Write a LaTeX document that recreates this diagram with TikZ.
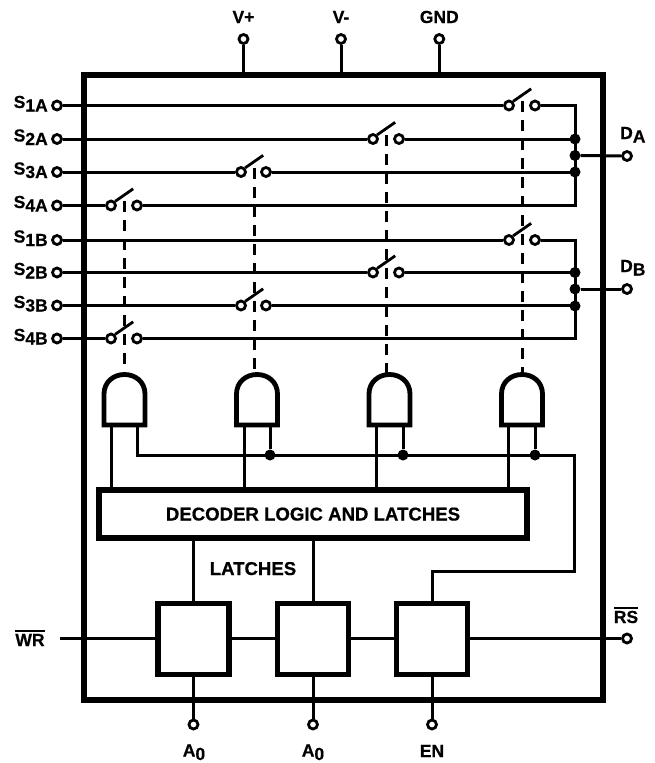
\documentclass[tikz,border=0pt]{standalone}
\usepackage{fontspec}
\setmainfont{Liberation Sans}[BoldFont={Liberation Sans Bold},BoldFeatures={FakeBold=0.6}]
\newcommand{\barred}[1]{\vbox{\hrule height 1.3pt\kern 2.2pt\hbox{#1}}}
\newcommand{\subdrop}[1]{\raisebox{-3.5pt}{#1}}
\begin{document}
\begin{tikzpicture}[x=1pt,y=-1pt,
  wire/.style={line width=3pt,line cap=butt,line join=miter},
  heavy/.style={line width=5.2pt,line join=miter},
  term/.style={circle,draw,line width=2.8pt,fill=white,minimum size=9pt,inner sep=0pt},
  dotj/.style={circle,fill=black,minimum size=11pt,inner sep=0pt},
  ctrl/.style={line width=3pt,dash pattern=on 11pt off 8pt},
  lab/.style={font=\bfseries\fontsize{17.5}{20}\selectfont,inner sep=0pt,text=black,anchor=base},
  bigl/.style={lab,font=\bfseries\fontsize{18.6}{20}\selectfont},
  blockbox/.style={draw,heavy,fill=white,inner sep=0pt}]
\useasboundingbox (0,0) rectangle (655,763);

% external frame
\node[draw,heavy,minimum width=519pt,minimum height=625pt,inner sep=0pt,anchor=north west,outer sep=0pt] (chip) at (84,75) {};

% power terminals
\foreach \n/\x/\t in {vp/243.5/V+,vm/341/V-,gnd/439.3/GND}{
  \node[term] (\n) at (\x,39) {};
  \coordinate (\n e) at (\x,75);
  \draw[wire] (\n) -- (\n e);
  \node[lab] at (\x,23) {\t};
}

% dashed controls first (under the lines)
\foreach \n/\x/\y in {g4/124/201,g3/254/168,g2/386/135,g1/522/101}{
  \coordinate (\n s) at (\x,\y);
  \coordinate (\n t) at (\x,373);
  \draw[ctrl] (\n s) -- (\n t);
}

% right buses
\coordinate (busAt) at (575,104);
\coordinate (busAb) at (575,207);
\coordinate (busBt) at (575,238.5);
\coordinate (busBb) at (575,340);
\draw[wire] (busAt) -- (busAb);
\draw[wire] (busBt) -- (busBb);

% signal lines and switches
\foreach \n/\y/\a/\b/\sub in {
  sa/105.5/509/535/1A,
  sb/139/373/399/2A,
  sc/172/241/266/3A,
  sd/205.5/111/137/4A,
  se/240/509/535/1B,
  sf/272.5/373/399/2B,
  sg/305.5/241/266/3B,
  sh/338.5/111/137/4B}{
  \node[term] (\n) at (57,\y) {};
  \node[term] (\n l) at (\a,\y) {};
  \node[term] (\n r) at (\b,\y) {};
  \coordinate (\n m) at (575,\y);
  \draw[wire] (\n) -- (\n l);
  \draw[wire] (\n r) -- (\n m);
  \draw[line width=2.8pt] (\n l.north east) -- ++(18,-12.5);
  \node[lab,anchor=base west] at (13.5,\y+2.5) {S\subdrop{\sub}};
}

% bus junctions
\foreach \n/\y in {ja/139,jb/155.5,jc/172,jd/272.5,je/289,jf/306}{
  \node[dotj] (\n) at (575,\y) {};
}
\node[term] (da) at (627,156) {};
\node[term] (db) at (627,289) {};
\draw[wire] (jb) -- (da);
\draw[wire] (je) -- (db);
\node[lab,anchor=base west] at (620,139) {D\subdrop{A}};
\node[lab,anchor=base west] at (620,272) {D\subdrop{B}};

% AND gates
\foreach \n/\x in {g4/124.5,g3/257,g2/389.5,g1/522}{
  \draw[line width=4.8pt,line join=miter,fill=white]
    (\x-20.5,425) -- (\x-20.5,394)
    .. controls (\x-20.5,382) and (\x-11,374.5) .. (\x,374.5)
    .. controls (\x+11,374.5) and (\x+20.5,382) .. (\x+20.5,394)
    -- (\x+20.5,425) -- cycle;
}

% decoder
\node[blockbox,minimum width=428pt,minimum height=48pt,anchor=north west,outer sep=0pt] (dec) at (99,490) {};
\node[bigl] at (313,520.5) {DECODER LOGIC AND LATCHES};

% gate inputs
\foreach \x in {111,244,376,508}{
  \coordinate (top) at (\x,427);
  \coordinate (bot) at (\x,488);
  \draw[wire] (top) -- (bot);
}
\node[dotj] (k2) at (270,455) {};
\node[dotj] (k3) at (403,455) {};
\node[dotj] (k4) at (535,455) {};
\coordinate (k1) at (137,455);
\coordinate (c1) at (574,455);
\coordinate (c2) at (574,571.5);
\coordinate (c3) at (432,571.5);
\draw[wire] (137,427) -- (k1) -- (c1) -- (c2) -- (c3) -- (432,604);
\draw[wire] (270,427) -- (k2);
\draw[wire] (403,427) -- (k3);
\draw[wire] (535,427) -- (k4);

% latches
\draw[wire] (193.5,538) -- (193.5,604);
\draw[wire] (313,538) -- (313,604);
\foreach \n/\x in {la/193.5,lb/313,lc/432}{
  \node[blockbox,minimum size=71pt,outer sep=0pt] (\n) at (\x,639) {};
}
\node[bigl] at (253,575) {LATCHES};

\coordinate (wr) at (60,638.5);
\node[term] (rs) at (627,638.5) {};
\draw[wire] (wr) -- (la.west |- wr);
\draw[wire] (la.east |- wr) -- (lb.west |- wr);
\draw[wire] (lb.east |- wr) -- (lc.west |- wr);
\draw[wire] (lc.east |- wr) -- (rs);
\node[lab] at (30,646) {\barred{WR}};
\node[lab] at (626,623) {\barred{RS}};

% bottom terminals
\foreach \n/\l/\x in {ta/la/193.5,tb/lb/313,tc/lc/432}{
  \node[term] (\n) at (\x,724.5) {};
  \draw[wire] (\l.south) -- (\n);
}
\node[lab] at (194,756.5) {A\subdrop{0}};
\node[lab] at (313,756.5) {A\subdrop{0}};
\node[lab] at (432,757) {EN};
\end{tikzpicture}
\end{document}
